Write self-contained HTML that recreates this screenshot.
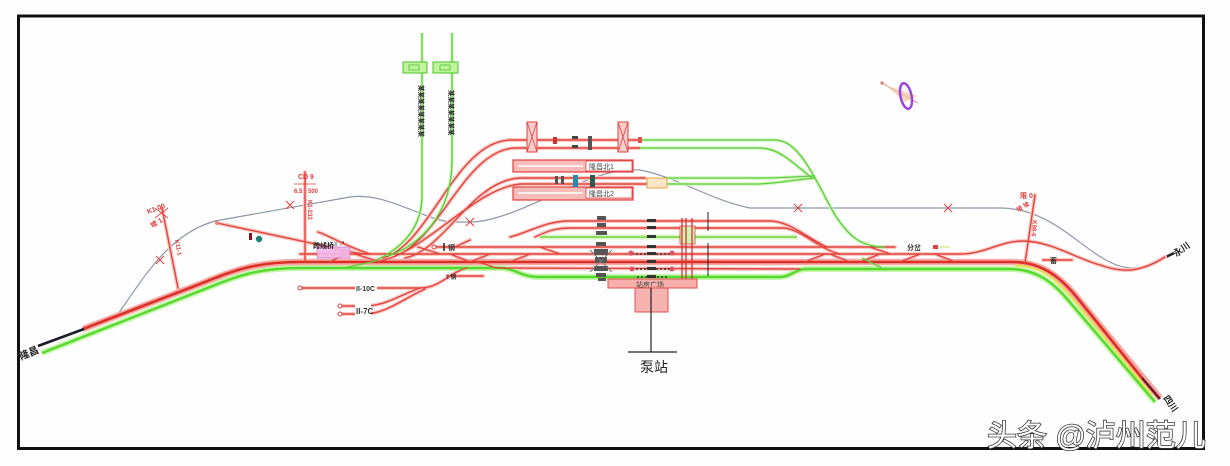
<!DOCTYPE html>
<html>
<head>
<meta charset="utf-8">
<style>
html,body{margin:0;padding:0;background:#fefefe;}
svg{display:block;}
.rh{fill:none;stroke:#f9c9c5;stroke-width:4;stroke-linecap:round;}
.r{fill:none;stroke:#e2423b;stroke-width:1.4;stroke-linecap:round;}
.gh{fill:none;stroke:#d2f5c0;stroke-width:3.5;}
.g{fill:none;stroke:#5ccf3a;stroke-width:1.3;}
.t{font-family:"Liberation Sans","Noto Sans CJK SC",sans-serif;}
</style>
</head>
<body>
<svg width="1230" height="466" viewBox="0 0 1230 466" xmlns="http://www.w3.org/2000/svg">
<rect x="0" y="0" width="1230" height="466" fill="#fefefe"/>

<defs>
<g id="thin">
  <path d="M 383 258 C 430 245, 455 142, 510 140 L 640 140"/>
  <path d="M 395 256 C 440 240, 465 150, 515 148 L 640 148"/>
  <path d="M 405 258 C 445 250, 472 180, 520 178 L 645 178"/>
  <path d="M 375 262 C 425 255, 475 186, 522 184 L 648 184"/>
  <path d="M 510 237 C 530 232, 545 221, 570 221 L 770 221 C 790 221, 810 240, 827 247"/>
  <path d="M 535 237 C 550 230, 556 228, 572 228 L 783 228 C 800 228, 820 250, 840 254"/>
  <path d="M 433 247 L 895 247"/>
  <path d="M 300 254 L 960 254 C 985 254, 1000 241, 1023 241 C 1050 241, 1075 258, 1100 265 C 1120 272, 1138 274, 1165 257"/>
  <path d="M 475 262 C 485 262, 490 268, 500 268 L 800 269"/>
  <path d="M 217 223 L 320 245 C 340 250, 352 253, 367 254"/>
  <path d="M 318 232 C 330 236, 345 246, 370 254"/>
  <path d="M 300 288 L 420 288 C 440 288, 450 272, 467 268"/>
  <path d="M 340 306 L 365 306 C 385 306, 400 295, 420 288"/>
  <path d="M 340 314 L 365 314 C 385 314, 405 298, 425 289"/>
  <path d="M 162 208 L 178 288"/>
  <path d="M 305 172 L 305 262"/>
  <path d="M 1035 195 L 1025 263"/>
  <path d="M 355 254 L 380 262 M 418 247 L 440 254 M 450 254 L 470 262 M 470 262 L 490 254 M 510 262 L 530 254 M 540 247 L 560 254 M 805 262 L 825 254 M 830 254 L 850 262 M 860 262 L 880 254 M 900 262 L 920 254 M 935 254 L 955 262 M 870 247 L 890 254 M 455 247 L 470 240 M 330 262 L 345 254"/>
  <path d="M 447 276 L 483 276"/>
  <path d="M 1043 260 L 1072 260"/>
</g>
<g id="green">
  <path d="M 422 33 L 422 195 C 422 230, 400 250, 372 262 L 343 268"/>
  <path d="M 452 33 L 452 160 C 452 215, 420 245, 388 256"/>
  <path d="M 640 140 L 775 140 C 800 140, 815 180, 835 215 C 848 235, 860 247, 885 247"/>
  <path d="M 640 148 L 760 148 C 780 148, 795 165, 812 178"/>
  <path d="M 667 178 L 760 178 C 780 178, 790 177, 815 176"/>
  <path d="M 667 184 L 755 184 C 775 184, 790 180, 815 178"/>
  <path d="M 862 258 L 882 268"/>
</g>
</defs>

<!-- frame -->
<rect x="18.5" y="16" width="1185" height="432.5" fill="none" stroke="#111" stroke-width="3"/>

<!-- gray line -->
<path d="M 117 315 C 140 285, 165 235, 215 221 L 350 197 C 385 192, 420 218, 450 222 L 470 222 C 500 222, 540 200, 580 183 C 600 175, 620 168, 640 170 C 680 178, 710 200, 750 208 L 1000 208 C 1060 208, 1090 265, 1130 268 C 1145 268, 1155 262, 1165 257" fill="none" stroke="#8e97a6" stroke-width="1.2"/>
<path d="M 1160 260 L 1174 253" stroke="#222" stroke-width="2.5"/>

<!-- glow layers -->
<use href="#thin" class="rh"/>
<use href="#green" class="gh"/>
<path d="M 540 237 L 797 237" stroke="#d8f7c8" stroke-width="5" fill="none"/>

<!-- main green -->
<path d="M 42 353 L 200 291 C 235 277, 255 268, 300 268 L 500 268 C 515 268, 520 277, 540 277 L 780 277 C 790 277, 796 269, 806 269 L 1010 269 C 1035 269, 1052 281, 1068 300 L 1155 402" fill="none" stroke="#c6f5ac" stroke-width="6"/>
<path d="M 42 353 L 200 291 C 235 277, 255 268, 300 268 L 500 268 C 515 268, 520 277, 540 277 L 780 277 C 790 277, 796 269, 806 269 L 1010 269 C 1035 269, 1052 281, 1068 300 L 1155 402" fill="none" stroke="#56d92e" stroke-width="2.4"/>
<!-- main red -->
<path d="M 83 329 L 200 284 C 235 270, 255 262, 300 262 L 1012 262 C 1040 262, 1058 275, 1075 295 L 1160 398" fill="none" stroke="#f6aaa5" stroke-width="6.5"/>
<path d="M 1015 265.5 C 1040 265.5, 1055 278, 1072 298 L 1152 395" fill="none" stroke="#e6e24a" stroke-width="2"/>
<path d="M 83 329 L 200 284 C 235 270, 255 262, 300 262 L 1012 262 C 1040 262, 1058 275, 1075 295 L 1142 378" fill="none" stroke="#dd2f28" stroke-width="2.6"/>
<path d="M 1142 378 L 1160 399" stroke="#7a1525" stroke-width="2.6"/>
<path d="M 38 346 L 84 329" stroke="#1d1d2a" stroke-width="2.6"/>

<!-- thin tracks -->
<use href="#thin" class="r"/>
<use href="#green" class="g"/>
<path d="M 540 237 L 797 237" stroke="#8edc5c" stroke-width="2" fill="none"/>

<!-- pink bridge -->
<rect x="317" y="247" width="33" height="11" fill="#f2b6e8" stroke="#d070c0" stroke-width="0.8" opacity="0.9"/>
<text x="313" y="248" class="t" font-size="7" font-weight="bold" fill="#222">跨线桥</text>
<text x="334" y="246" class="t" font-size="6" fill="#222">≡ ↗</text>

<!-- siding markers -->
<rect x="249" y="233" width="3" height="7" fill="#8a1020"/>
<circle cx="259" cy="239" r="3.2" fill="#1f8070"/>
<circle cx="217" cy="223" r="2" fill="#f08080"/>

<!-- top green boxes & vertical labels -->
<rect x="403" y="62" width="24" height="11" fill="#bff39c" stroke="#4cc22c" stroke-width="1"/>
<rect x="433" y="62" width="25" height="11" fill="#bff39c" stroke="#4cc22c" stroke-width="1"/>
<rect x="409" y="65" width="10" height="5" fill="none" stroke="#4cc22c" stroke-width="0.8"/>
<rect x="440" y="65" width="10" height="5" fill="none" stroke="#4cc22c" stroke-width="0.8"/>
<text class="t" font-size="6.5" font-weight="bold" fill="#222" transform="translate(419,85) rotate(90)">某某某某某某某某</text>
<text class="t" font-size="6.5" font-weight="bold" fill="#222" transform="translate(449,90) rotate(90)">某某某某某某某</text>

<!-- top X boxes -->
<rect x="527" y="122" width="10" height="30" fill="#f9cdcb" stroke="#e04040" stroke-width="1"/>
<path d="M 527 122 L 537 152 M 537 122 L 527 152" stroke="#e04040" stroke-width="0.8"/>
<rect x="618" y="122" width="10" height="30" fill="#f9cdcb" stroke="#e04040" stroke-width="1"/>
<path d="M 618 122 L 628 152 M 628 122 L 618 152" stroke="#e04040" stroke-width="0.8"/>
<rect x="553" y="137" width="4" height="7" fill="#d03030"/>
<rect x="572" y="136" width="6" height="3" fill="#444"/><rect x="572" y="145" width="6" height="3" fill="#444"/>
<rect x="588" y="136" width="4" height="14" fill="#555"/>
<rect x="638" y="137" width="4" height="6" fill="#e05050"/>

<!-- platforms -->
<rect x="513" y="160" width="120" height="12" fill="#f7bcb8" stroke="#e04040" stroke-width="1.2"/>
<path d="M 518 166 L 583 166" stroke="#fff" stroke-width="1.5"/>
<rect x="586" y="161" width="46" height="10" fill="#fff" stroke="#e04040" stroke-width="0.8"/>
<text x="589" y="169" class="t" font-size="7" fill="#444">隆昌北1</text>
<rect x="513" y="187" width="120" height="13" fill="#f7bcb8" stroke="#e04040" stroke-width="1.2"/>
<path d="M 518 193 L 583 193" stroke="#fff" stroke-width="1.5"/>
<rect x="586" y="188" width="46" height="10" fill="#fff" stroke="#e04040" stroke-width="0.8"/>
<text x="589" y="196" class="t" font-size="7" fill="#444">隆昌北2</text>
<rect x="573" y="175" width="5" height="12" fill="#2b8aa8"/>
<rect x="590" y="175" width="5" height="12" fill="#2a5a50"/>
<rect x="555" y="176" width="3" height="8" fill="#555"/><rect x="561" y="176" width="3" height="8" fill="#555"/>
<rect x="647" y="178" width="20" height="10" fill="#fde6c8" stroke="#e8a040" stroke-width="1"/>

<!-- center cluster -->
<g fill="#555">
  <rect x="597" y="216" width="9" height="4"/><rect x="597" y="223" width="9" height="4"/>
  <rect x="596" y="231" width="11" height="4"/><rect x="596" y="242" width="10" height="4"/>
  <rect x="594" y="249" width="14" height="6"/><rect x="595" y="257" width="12" height="6"/>
  <rect x="594" y="266" width="14" height="5"/><rect x="596" y="273" width="10" height="4"/>
  <rect x="598" y="278" width="8" height="3"/>
</g>
<path d="M 590 250 L 612 272 M 612 250 L 590 272" stroke="#777" stroke-width="1"/>
<g fill="#333">
  <rect x="647" y="219" width="9" height="3"/><rect x="647" y="226" width="9" height="3"/>
  <rect x="647" y="235" width="9" height="3"/><rect x="647" y="245" width="9" height="3"/>
  <rect x="647" y="252" width="9" height="3"/><rect x="647" y="260" width="9" height="3"/>
  <rect x="647" y="267" width="9" height="3"/><rect x="647" y="275" width="9" height="3"/>
</g>
<path d="M 632 254 L 672 254 M 632 269 L 672 269 M 637 277 L 667 277" stroke="#333" stroke-width="1.5" stroke-dasharray="2 2"/>
<circle cx="631" cy="253" r="2.5" fill="#e05060"/><circle cx="672" cy="253" r="2.5" fill="#e05060"/>
<circle cx="632" cy="269" r="2.5" fill="#e05060"/><circle cx="672" cy="269" r="2.5" fill="#e05060"/>
<rect x="680" y="226" width="15" height="18" fill="#d2f3b4" stroke="#e04040" stroke-width="0.8"/>
<path d="M 682 218 L 682 282 M 686 218 L 686 282 M 692 218 L 692 282" stroke="#d83030" stroke-width="1.3"/>
<path d="M 708 212 L 708 231 M 708 243 L 708 276" stroke="#222" stroke-width="1"/>

<!-- station building -->
<rect x="608" y="279" width="89" height="9" fill="#f6aeaa" stroke="#e05050" stroke-width="1"/>
<text x="636" y="287" class="t" font-size="7" fill="#444">站房广场</text>
<rect x="635" y="288" width="33" height="24" fill="#f6b2ae" stroke="#e05050" stroke-width="1"/>
<path d="M 651 288 L 651 352 M 628 352 L 677 352" stroke="#222" stroke-width="1.2"/>
<text x="640" y="372" class="t" font-size="14" fill="#222">泵站</text>

<!-- small labels -->
<circle cx="434" cy="247" r="2" fill="#fff" stroke="#e04040"/>
<path d="M 444 243 L 444 251" stroke="#222" stroke-width="1.5"/>
<text x="448" y="250" class="t" font-size="7" font-weight="bold" fill="#333">钢</text>
<text x="447" y="279" class="t" font-size="6" font-weight="bold" fill="#333">I 钢</text>
<rect x="355" y="284" width="22" height="8" fill="#fff"/>
<text x="356" y="291" class="t" font-size="7" font-weight="bold" fill="#333">II-10C</text>
<rect x="355" y="302" width="16" height="16" fill="#fff"/>
<text x="356" y="314" class="t" font-size="8" font-weight="bold" fill="#333">II-7C</text>
<circle cx="300" cy="288" r="2" fill="#fff" stroke="#e04040"/>
<circle cx="340" cy="306" r="2" fill="#fff" stroke="#e04040"/>
<circle cx="340" cy="314" r="2" fill="#fff" stroke="#e04040"/>
<rect x="905" y="243" width="24" height="8" fill="#fff"/>
<text x="907" y="250" class="t" font-size="7" font-weight="bold" fill="#333">分岔</text>
<rect x="933" y="245" width="5" height="4" fill="#e04040"/>
<path d="M 940 247 L 950 247" stroke="#c8d840" stroke-width="1.2" stroke-dasharray="2 1"/>
<text x="1050" y="263" class="t" font-size="7" font-weight="bold" fill="#333">蓄</text>

<!-- red post labels -->
<g class="t" fill="#e04040" font-size="7" font-weight="bold">
  <text transform="translate(148,214) rotate(-20)">K1 00</text>
  <text transform="translate(152,228) rotate(-30)">坡 1</text>
  <text x="298" y="179">CD 9</text>
  <path d="M 294 184 L 316 184" stroke="#e04040" stroke-width="0.8"/>
  <text x="294" y="193" font-size="6">6.5</text>
  <text x="308" y="193" font-size="6">500</text>
  <text transform="translate(308,200) rotate(90)" font-size="6">K1-233</text>
  <text transform="translate(175,240) rotate(80)" font-size="6">K11-1</text>
  <text x="1020" y="198">限 0</text>
  <text transform="translate(1018,212) rotate(-30)" font-size="6">坡 坡</text>
  <text transform="translate(1033,220) rotate(95)" font-size="6">K98-6</text>
</g>
<path d="M 155 208 L 168 218 M 168 208 L 155 218" stroke="#e04040" stroke-width="0.8"/>

<!-- X marks on gray -->
<g stroke="#e04040" stroke-width="1">
  <path d="M 156 256 L 164 264 M 164 256 L 156 264"/>
  <path d="M 286 201 L 294 209 M 294 201 L 286 209"/>
  <path d="M 466 218 L 474 226 M 474 218 L 466 226"/>
  <path d="M 794 204 L 802 212 M 802 204 L 794 212"/>
  <path d="M 944 204 L 952 212 M 952 204 L 944 212"/>
</g>

<!-- compass -->
<path d="M 882 83 L 918 103" stroke="#d6a890" stroke-width="1.2"/>
<path d="M 885 85 L 918 96 L 905 102 Z" fill="#f0c8a0" opacity="0.7"/>
<ellipse cx="906" cy="96" rx="5.5" ry="13" transform="rotate(-12 906 96)" fill="none" stroke="#9a44e0" stroke-width="2.5"/>
<circle cx="882" cy="83" r="1.6" fill="#d08070"/>

<!-- end labels -->
<text class="t" font-size="10" font-weight="bold" fill="#222" transform="translate(21,360) rotate(-22)">隆昌</text>
<text class="t" font-size="9" font-weight="bold" fill="#222" transform="translate(1176,257) rotate(-35)">永川</text>
<text class="t" font-size="9" font-weight="bold" fill="#222" transform="translate(1163,398) rotate(55)">四川</text>

<!-- watermark -->
<text x="987" y="446" class="t" font-size="30" fill="#ffffff" stroke="#3a3a3a" stroke-width="1.6" paint-order="stroke">头条 @泸州范儿</text>
</svg>
</body>
</html>
